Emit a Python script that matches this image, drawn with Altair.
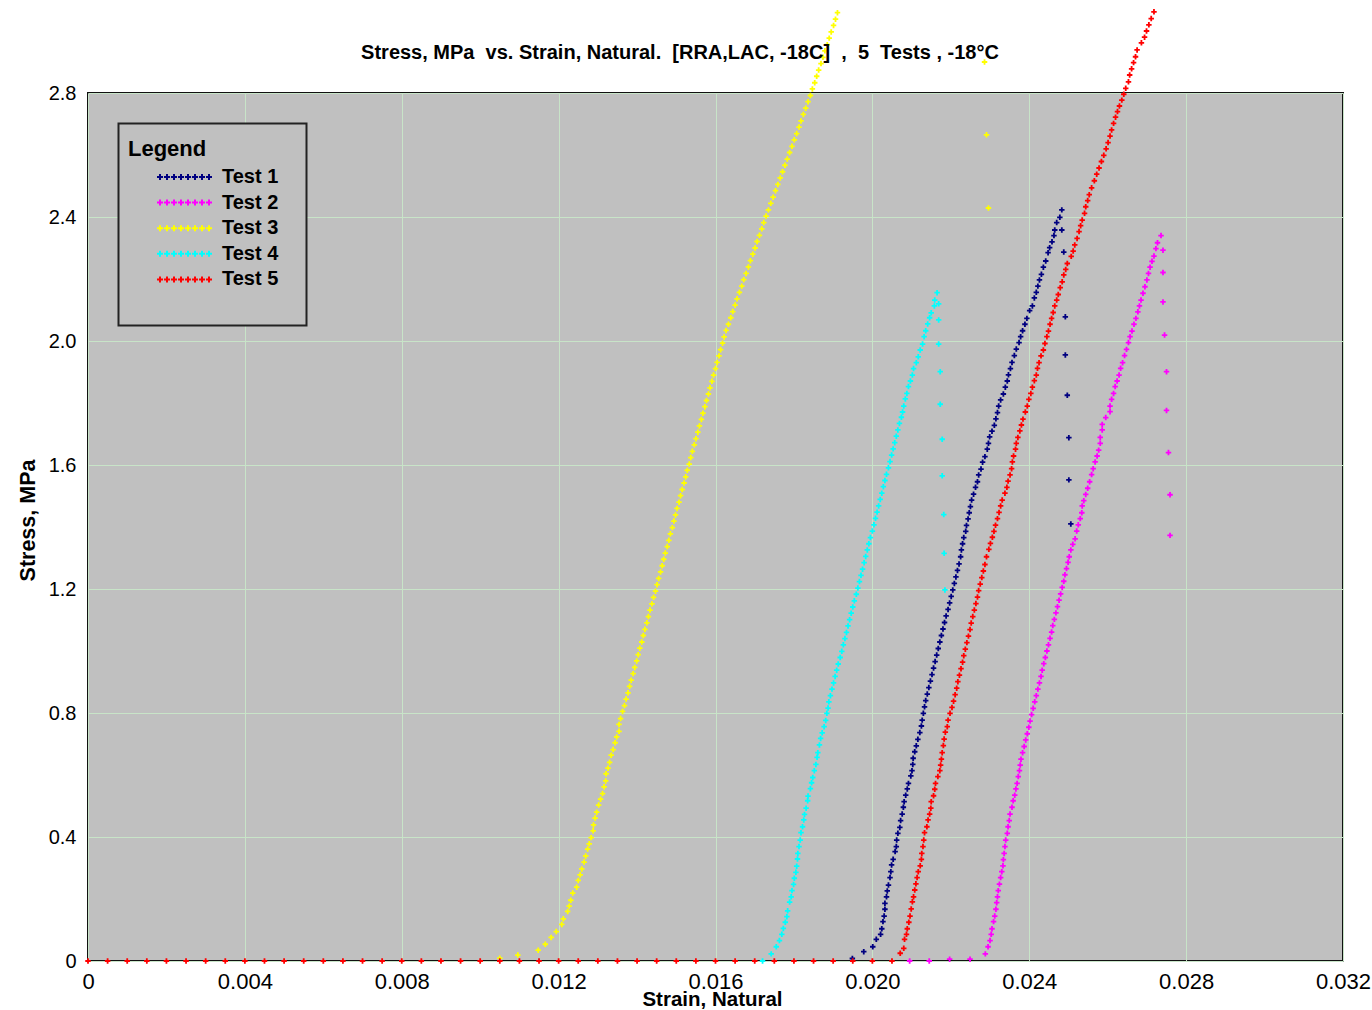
import altair as alt
import pandas as pd

# (strain, stress MPa) readings for each specimen
TEST_1 = [
    (0.01949, 0.008),
    (0.01978, 0.030), (0.02001, 0.046), (0.02010, 0.070), (0.02021, 0.086), (0.02024, 0.104),
    (0.02027, 0.127), (0.02030, 0.145), (0.02032, 0.167), (0.02032, 0.186), (0.02036, 0.207),
    (0.02038, 0.226), (0.02041, 0.245), (0.02045, 0.269), (0.02047, 0.288), (0.02049, 0.310),
    (0.02053, 0.328), (0.02058, 0.353), (0.02061, 0.369), (0.02062, 0.390), (0.02065, 0.412),
    (0.02070, 0.431), (0.02072, 0.453), (0.02076, 0.474), (0.02079, 0.496), (0.02081, 0.514),
    (0.02085, 0.535), (0.02089, 0.555), (0.02092, 0.573), (0.02098, 0.597), (0.02101, 0.614),
    (0.02103, 0.634), (0.02104, 0.654), (0.02108, 0.675), (0.02112, 0.694), (0.02116, 0.715),
    (0.02121, 0.737), (0.02125, 0.758), (0.02127, 0.777), (0.02130, 0.799), (0.02133, 0.820),
    (0.02136, 0.840), (0.02140, 0.861), (0.02144, 0.882), (0.02148, 0.903), (0.02152, 0.924),
    (0.02156, 0.945), (0.02160, 0.966), (0.02164, 0.987), (0.02168, 1.008), (0.02172, 1.029),
    (0.02176, 1.050), (0.02180, 1.071), (0.02184, 1.092), (0.02188, 1.113), (0.02193, 1.134),
    (0.02197, 1.155), (0.02201, 1.176), (0.02205, 1.197), (0.02209, 1.218), (0.02213, 1.239),
    (0.02217, 1.260), (0.02221, 1.281), (0.02225, 1.304), (0.02227, 1.326), (0.02230, 1.346),
    (0.02233, 1.366), (0.02238, 1.386), (0.02240, 1.405), (0.02244, 1.426), (0.02247, 1.446),
    (0.02250, 1.466), (0.02253, 1.487), (0.02258, 1.506), (0.02263, 1.528), (0.02268, 1.546),
    (0.02271, 1.568), (0.02277, 1.587), (0.02281, 1.609), (0.02287, 1.627), (0.02293, 1.651),
    (0.02296, 1.670), (0.02299, 1.691), (0.02305, 1.709), (0.02311, 1.728), (0.02315, 1.749),
    (0.02319, 1.769), (0.02322, 1.790), (0.02327, 1.810), (0.02334, 1.829), (0.02339, 1.851),
    (0.02344, 1.871), (0.02347, 1.891), (0.02352, 1.911), (0.02356, 1.931), (0.02362, 1.953),
    (0.02367, 1.974), (0.02374, 1.995), (0.02378, 2.014), (0.02383, 2.033), (0.02389, 2.054),
    (0.02394, 2.073), (0.02401, 2.098), (0.02408, 2.113), (0.02413, 2.139), (0.02418, 2.157),
    (0.02422, 2.177), (0.02426, 2.197), (0.02431, 2.215), (0.02436, 2.238), (0.02442, 2.258),
    (0.02448, 2.285), (0.02452, 2.301), (0.02458, 2.320), (0.02463, 2.340), (0.02465, 2.358),
    (0.02470, 2.382), (0.02478, 2.399), (0.02483, 2.423),
    (0.02483, 2.358), (0.02488, 2.287), (0.02492, 2.078), (0.02492, 1.955), (0.02497, 1.825),
    (0.02501, 1.688), (0.02501, 1.552), (0.02506, 1.410),
]

TEST_2 = [
    (0.02095, 0.0), (0.02145, 0.0), (0.02197, 0.006), (0.02249, 0.006),
    (0.02288, 0.023), (0.02295, 0.046), (0.02300, 0.066), (0.02303, 0.086), (0.02305, 0.104),
    (0.02309, 0.127), (0.02312, 0.145), (0.02315, 0.167), (0.02317, 0.188), (0.02319, 0.207),
    (0.02321, 0.227), (0.02324, 0.248), (0.02327, 0.269), (0.02330, 0.288), (0.02333, 0.307),
    (0.02334, 0.327), (0.02336, 0.347), (0.02338, 0.369), (0.02340, 0.390), (0.02344, 0.412),
    (0.02346, 0.433), (0.02349, 0.453), (0.02351, 0.474), (0.02356, 0.496), (0.02359, 0.517),
    (0.02363, 0.535), (0.02366, 0.555), (0.02369, 0.573), (0.02372, 0.595), (0.02375, 0.614),
    (0.02377, 0.632), (0.02379, 0.651), (0.02383, 0.672), (0.02387, 0.692), (0.02391, 0.713),
    (0.02395, 0.733), (0.02399, 0.754), (0.02402, 0.774), (0.02406, 0.795), (0.02410, 0.815),
    (0.02414, 0.836), (0.02418, 0.856), (0.02422, 0.877), (0.02426, 0.897), (0.02430, 0.918),
    (0.02433, 0.938), (0.02437, 0.959), (0.02441, 0.979), (0.02445, 1.000), (0.02449, 1.020),
    (0.02453, 1.041), (0.02457, 1.061), (0.02460, 1.082), (0.02464, 1.102), (0.02468, 1.123),
    (0.02472, 1.143), (0.02476, 1.164), (0.02480, 1.184), (0.02484, 1.205), (0.02488, 1.225),
    (0.02491, 1.246), (0.02495, 1.266), (0.02499, 1.286), (0.02502, 1.304), (0.02506, 1.326),
    (0.02511, 1.344), (0.02517, 1.362), (0.02521, 1.387), (0.02525, 1.407), (0.02530, 1.427),
    (0.02534, 1.446), (0.02535, 1.468), (0.02539, 1.485), (0.02544, 1.505), (0.02549, 1.525),
    (0.02554, 1.546), (0.02559, 1.569), (0.02563, 1.588), (0.02568, 1.610), (0.02573, 1.629),
    (0.02577, 1.648), (0.02581, 1.670), (0.02581, 1.689), (0.02586, 1.713), (0.02586, 1.731),
    (0.02595, 1.753), (0.02606, 1.772), (0.02606, 1.790), (0.02610, 1.812), (0.02615, 1.831),
    (0.02619, 1.853), (0.02624, 1.871), (0.02629, 1.890), (0.02633, 1.912), (0.02638, 1.930),
    (0.02643, 1.953), (0.02648, 1.973), (0.02653, 1.995), (0.02657, 2.014), (0.02662, 2.032),
    (0.02667, 2.054), (0.02672, 2.073), (0.02677, 2.094), (0.02681, 2.113), (0.02685, 2.132),
    (0.02690, 2.154), (0.02695, 2.175), (0.02700, 2.197), (0.02704, 2.218), (0.02708, 2.238),
    (0.02713, 2.257), (0.02718, 2.274), (0.02723, 2.298), (0.02727, 2.317), (0.02736, 2.340),
    (0.02741, 2.293), (0.02741, 2.221), (0.02741, 2.126), (0.02745, 2.019), (0.02750, 1.901),
    (0.02750, 1.776), (0.02755, 1.640), (0.02759, 1.504), (0.02759, 1.373),
]

TEST_3 = [
    (0.01050, 0.009),
    (0.01096, 0.019), (0.01148, 0.035), (0.01166, 0.054), (0.01181, 0.076), (0.01194, 0.095),
    (0.01208, 0.118), (0.01212, 0.136), (0.01223, 0.160), (0.01227, 0.177), (0.01231, 0.196),
    (0.01236, 0.219), (0.01246, 0.238), (0.01250, 0.260), (0.01255, 0.278), (0.01259, 0.297),
    (0.01265, 0.319), (0.01269, 0.339), (0.01274, 0.361), (0.01278, 0.378), (0.01283, 0.398),
    (0.01288, 0.420), (0.01289, 0.439), (0.01293, 0.461), (0.01297, 0.480), (0.01302, 0.503),
    (0.01307, 0.522), (0.01312, 0.540), (0.01316, 0.562), (0.01320, 0.581), (0.01321, 0.604),
    (0.01326, 0.622), (0.01330, 0.641), (0.01334, 0.664), (0.01339, 0.682), (0.01344, 0.704),
    (0.01348, 0.723), (0.01354, 0.741), (0.01354, 0.763), (0.01358, 0.782), (0.01363, 0.805),
    (0.01368, 0.824), (0.01372, 0.845), (0.01377, 0.865), (0.01381, 0.886), (0.01385, 0.906),
    (0.01390, 0.927), (0.01394, 0.947), (0.01399, 0.968), (0.01403, 0.988), (0.01407, 1.009),
    (0.01412, 1.029), (0.01416, 1.050), (0.01420, 1.070), (0.01425, 1.091), (0.01429, 1.111),
    (0.01433, 1.132), (0.01438, 1.152), (0.01442, 1.173), (0.01447, 1.193), (0.01451, 1.214),
    (0.01455, 1.234), (0.01460, 1.255), (0.01464, 1.275), (0.01468, 1.296), (0.01472, 1.316),
    (0.01477, 1.337), (0.01481, 1.357), (0.01485, 1.378), (0.01490, 1.398), (0.01494, 1.419),
    (0.01498, 1.439), (0.01502, 1.460), (0.01507, 1.480), (0.01511, 1.501), (0.01515, 1.521),
    (0.01520, 1.542), (0.01524, 1.562), (0.01528, 1.583), (0.01533, 1.603), (0.01537, 1.624),
    (0.01541, 1.644), (0.01546, 1.665), (0.01550, 1.685), (0.01555, 1.706), (0.01559, 1.726),
    (0.01564, 1.747), (0.01568, 1.767), (0.01573, 1.788), (0.01577, 1.808), (0.01582, 1.829),
    (0.01586, 1.849), (0.01591, 1.870), (0.01595, 1.890), (0.01600, 1.911), (0.01604, 1.931),
    (0.01609, 1.952), (0.01613, 1.972), (0.01618, 1.993), (0.01622, 2.013), (0.01627, 2.034),
    (0.01633, 2.054), (0.01639, 2.075), (0.01644, 2.095), (0.01650, 2.116), (0.01655, 2.136),
    (0.01661, 2.157), (0.01667, 2.177), (0.01672, 2.198), (0.01678, 2.218), (0.01684, 2.239),
    (0.01689, 2.259), (0.01695, 2.280), (0.01701, 2.300), (0.01706, 2.321), (0.01712, 2.341),
    (0.01718, 2.362), (0.01723, 2.382), (0.01729, 2.403), (0.01735, 2.423), (0.01741, 2.444),
    (0.01747, 2.464), (0.01753, 2.485), (0.01759, 2.505), (0.01765, 2.526), (0.01771, 2.546),
    (0.01777, 2.567), (0.01783, 2.587), (0.01789, 2.608), (0.01795, 2.628), (0.01801, 2.649),
    (0.01807, 2.669), (0.01813, 2.690), (0.01818, 2.710), (0.01824, 2.731), (0.01830, 2.751),
    (0.01836, 2.772), (0.01842, 2.792), (0.01847, 2.813), (0.01853, 2.833), (0.01858, 2.854),
    (0.01863, 2.874), (0.01869, 2.895), (0.01874, 2.915), (0.01879, 2.936), (0.01885, 2.956),
    (0.01890, 2.977), (0.01895, 2.997), (0.01901, 3.018), (0.01906, 3.038), (0.01911, 3.059),
    (0.02286, 2.900), (0.02291, 2.665), (0.02296, 2.429),
]

TEST_4 = [
    (0.01720, 0.0),
    (0.01742, 0.023), (0.01755, 0.046), (0.01763, 0.066), (0.01769, 0.086), (0.01773, 0.105),
    (0.01778, 0.125), (0.01782, 0.143), (0.01784, 0.162), (0.01789, 0.190), (0.01793, 0.207),
    (0.01795, 0.227), (0.01799, 0.247), (0.01801, 0.267), (0.01805, 0.286), (0.01807, 0.306),
    (0.01809, 0.329), (0.01810, 0.347), (0.01813, 0.369), (0.01816, 0.390), (0.01818, 0.414),
    (0.01822, 0.433), (0.01825, 0.455), (0.01827, 0.473), (0.01831, 0.493), (0.01835, 0.517),
    (0.01836, 0.532), (0.01842, 0.556), (0.01845, 0.575), (0.01848, 0.592), (0.01852, 0.614),
    (0.01856, 0.634), (0.01859, 0.657), (0.01861, 0.672), (0.01865, 0.697), (0.01868, 0.718),
    (0.01872, 0.736), (0.01877, 0.756), (0.01881, 0.776), (0.01884, 0.799), (0.01887, 0.816),
    (0.01889, 0.836), (0.01893, 0.856), (0.01897, 0.877), (0.01901, 0.897), (0.01905, 0.918),
    (0.01909, 0.938), (0.01913, 0.958), (0.01918, 0.979), (0.01922, 0.999), (0.01926, 1.020),
    (0.01930, 1.040), (0.01934, 1.060), (0.01938, 1.081), (0.01942, 1.101), (0.01946, 1.122),
    (0.01950, 1.142), (0.01954, 1.162), (0.01959, 1.183), (0.01963, 1.203), (0.01967, 1.224),
    (0.01971, 1.244), (0.01975, 1.264), (0.01979, 1.285), (0.01983, 1.305), (0.01987, 1.326),
    (0.01991, 1.346), (0.01995, 1.366), (0.02000, 1.387), (0.02004, 1.407), (0.02008, 1.428),
    (0.02012, 1.448), (0.02016, 1.468), (0.02020, 1.489), (0.02024, 1.509), (0.02028, 1.530),
    (0.02032, 1.550), (0.02036, 1.570), (0.02041, 1.591), (0.02045, 1.611), (0.02049, 1.632),
    (0.02053, 1.652), (0.02057, 1.672), (0.02061, 1.693), (0.02065, 1.713), (0.02069, 1.734),
    (0.02074, 1.754), (0.02077, 1.771), (0.02080, 1.790), (0.02084, 1.813), (0.02088, 1.831),
    (0.02092, 1.853), (0.02097, 1.871), (0.02102, 1.890), (0.02105, 1.911), (0.02112, 1.930),
    (0.02117, 1.949), (0.02122, 1.971), (0.02128, 1.990), (0.02132, 2.014), (0.02136, 2.033),
    (0.02141, 2.055), (0.02146, 2.075), (0.02150, 2.091), (0.02158, 2.113), (0.02159, 2.132),
    (0.02165, 2.156),
    (0.02169, 2.120), (0.02169, 2.068), (0.02169, 1.990), (0.02173, 1.901), (0.02173, 1.796),
    (0.02178, 1.683), (0.02178, 1.565), (0.02182, 1.440), (0.02183, 1.315), (0.02185, 1.197),
]

TEST_5 = [
    (0.0000, 0.0), (0.0005, 0.0), (0.0010, 0.0), (0.0015, 0.0), (0.0020, 0.0), (0.0025, 0.0),
    (0.0030, 0.0), (0.0035, 0.0), (0.0040, 0.0), (0.0045, 0.0), (0.0050, 0.0), (0.0055, 0.0),
    (0.0060, 0.0), (0.0065, 0.0), (0.0070, 0.0), (0.0075, 0.0), (0.0080, 0.0), (0.0085, 0.0),
    (0.0090, 0.0), (0.0095, 0.0), (0.0100, 0.0), (0.0105, 0.0), (0.0110, 0.0), (0.0115, 0.0),
    (0.0120, 0.0), (0.0125, 0.0), (0.0130, 0.0), (0.0135, 0.0), (0.0140, 0.0), (0.0145, 0.0),
    (0.0150, 0.0), (0.0155, 0.0), (0.0160, 0.0), (0.0165, 0.0), (0.0170, 0.0), (0.0175, 0.0),
    (0.0180, 0.0), (0.0185, 0.0), (0.0190, 0.0), (0.0195, 0.0), (0.0200, 0.0), (0.0205, 0.0),
    (0.02071, 0.025), (0.02080, 0.041), (0.02082, 0.070), (0.02087, 0.086), (0.02089, 0.104),
    (0.02093, 0.125), (0.02096, 0.145), (0.02099, 0.168), (0.02102, 0.191), (0.02105, 0.207),
    (0.02108, 0.229), (0.02111, 0.249), (0.02114, 0.269), (0.02117, 0.288), (0.02122, 0.307),
    (0.02125, 0.328), (0.02126, 0.347), (0.02129, 0.369), (0.02131, 0.390), (0.02133, 0.414),
    (0.02139, 0.433), (0.02142, 0.455), (0.02146, 0.474), (0.02149, 0.493), (0.02150, 0.514),
    (0.02156, 0.533), (0.02159, 0.554), (0.02161, 0.573), (0.02167, 0.595), (0.02172, 0.614),
    (0.02174, 0.632), (0.02176, 0.651), (0.02178, 0.672), (0.02181, 0.695), (0.02183, 0.716),
    (0.02186, 0.738), (0.02191, 0.756), (0.02193, 0.777), (0.02198, 0.799), (0.02203, 0.818),
    (0.02207, 0.838), (0.02211, 0.859), (0.02215, 0.880), (0.02218, 0.901), (0.02222, 0.922),
    (0.02226, 0.943), (0.02230, 0.964), (0.02233, 0.985), (0.02237, 1.006), (0.02241, 1.027),
    (0.02245, 1.048), (0.02249, 1.069), (0.02252, 1.090), (0.02256, 1.111), (0.02260, 1.132),
    (0.02264, 1.153), (0.02268, 1.174), (0.02271, 1.195), (0.02275, 1.216), (0.02279, 1.237),
    (0.02283, 1.258), (0.02287, 1.279), (0.02291, 1.304), (0.02297, 1.328), (0.02301, 1.347),
    (0.02306, 1.367), (0.02310, 1.386), (0.02314, 1.406), (0.02319, 1.427), (0.02323, 1.447),
    (0.02327, 1.468), (0.02331, 1.487), (0.02338, 1.509), (0.02343, 1.528), (0.02346, 1.548),
    (0.02351, 1.568), (0.02355, 1.588), (0.02357, 1.610), (0.02360, 1.629), (0.02365, 1.651),
    (0.02367, 1.670), (0.02371, 1.689), (0.02376, 1.710), (0.02380, 1.729), (0.02384, 1.748),
    (0.02390, 1.771), (0.02395, 1.790), (0.02399, 1.812), (0.02404, 1.831), (0.02408, 1.851),
    (0.02413, 1.872), (0.02418, 1.890), (0.02421, 1.912), (0.02425, 1.930), (0.02430, 1.952),
    (0.02436, 1.971), (0.02440, 1.992), (0.02445, 2.014), (0.02449, 2.032), (0.02453, 2.054),
    (0.02457, 2.073), (0.02461, 2.092), (0.02465, 2.113), (0.02470, 2.132), (0.02474, 2.150),
    (0.02479, 2.172), (0.02484, 2.191), (0.02488, 2.213), (0.02493, 2.231), (0.02497, 2.250),
    (0.02507, 2.273), (0.02512, 2.290), (0.02516, 2.310), (0.02522, 2.331), (0.02527, 2.353),
    (0.02531, 2.372), (0.02535, 2.390), (0.02541, 2.412), (0.02544, 2.433), (0.02549, 2.453),
    (0.02553, 2.472), (0.02559, 2.494), (0.02566, 2.517), (0.02572, 2.538), (0.02578, 2.558),
    (0.02584, 2.579), (0.02590, 2.599), (0.02596, 2.620), (0.02601, 2.640), (0.02606, 2.661),
    (0.02610, 2.681), (0.02615, 2.702), (0.02620, 2.722), (0.02625, 2.740), (0.02630, 2.758),
    (0.02636, 2.777), (0.02641, 2.796), (0.02646, 2.815), (0.02653, 2.836), (0.02656, 2.858),
    (0.02661, 2.878), (0.02666, 2.898), (0.02671, 2.917), (0.02675, 2.939), (0.02686, 2.962),
    (0.02694, 2.980), (0.02699, 3.000), (0.02705, 3.020), (0.02711, 3.040), (0.02718, 3.062),
]

SERIES = ["Test 1", "Test 2", "Test 3", "Test 4", "Test 5"]
COLORS = ["#000080", "#FF00FF", "#FFFF00", "#00FFFF", "#FF0000"]
X_TICKS = [0, 0.004, 0.008, 0.012, 0.016, 0.020, 0.024, 0.028, 0.032]
Y_TICKS = [0, 0.4, 0.8, 1.2, 1.6, 2.0, 2.4, 2.8]

NB = "\u00a0"
TITLE = (f"Stress, MPa{NB}{NB}vs. Strain, Natural.{NB}{NB}[RRA,LAC, -18C]{NB}{NB},"
         f"{NB}{NB}5{NB}{NB}Tests , -18°C")

rows = []
for name, pts in zip(SERIES, [TEST_1, TEST_2, TEST_3, TEST_4, TEST_5]):
    for strain, stress in pts:
        rows.append({"test": name, "strain": strain, "stress": stress})
df = pd.DataFrame(rows)

# small "+" marker used for the data points
CROSS = "M-1,-0.33H-0.33V-1H0.33V-0.33H1V0.33H0.33V1H-0.33V0.33H-1Z"


# legend swatch: a short row of "+" markers to the right of the symbol origin
def swatch(centers, arm=0.3, half=0.1):
    parts = []
    for c in centers:
        parts.append(
            f"M{c-arm:.2f},{-half}H{c-half:.2f}V{-arm}H{c+half:.2f}V{-half}"
            f"H{c+arm:.2f}V{half}H{c+half:.2f}V{arm}H{c-half:.2f}V{half}H{c-arm:.2f}Z"
        )
    return "".join(parts)


SWATCH = swatch([2.2, 2.9, 3.6, 4.3, 5.0, 5.7, 6.4, 7.1])

FONT = "Liberation Sans"

points = alt.Chart(df).mark_point(
    shape=CROSS, filled=True, size=30, opacity=1, strokeWidth=0
).encode(
    x=alt.X(
        "strain:Q",
        scale=alt.Scale(domain=[0, 0.032], nice=False, zero=False),
        axis=alt.Axis(
            values=X_TICKS,
            labelExpr="datum.value == 0 ? '0' : format(datum.value, '.3f')",
            labelFontSize=22,
            labelFlush=False,
            labelPadding=10,
            title="Strain, Natural",
            titleFontSize=20.5,
            titleY=44,
            titleX=624,
            titleBaseline="alphabetic",
        ),
    ),
    y=alt.Y(
        "stress:Q",
        scale=alt.Scale(domain=[0, 2.8], nice=False, zero=False),
        axis=alt.Axis(
            values=Y_TICKS,
            labelExpr="datum.value == 0 ? '0' : format(datum.value, '.1f')",
            labelFontSize=20,
            labelPadding=12,
            title="Stress, MPa",
            titleFontSize=21.5,
            titleX=-54,
            titleY=427,
            titleBaseline="alphabetic",
        ),
    ),
    color=alt.Color(
        "test:N",
        scale=alt.Scale(domain=SERIES, range=COLORS),
        legend=alt.Legend(
            title="Legend",
            orient="none",
            legendX=40,
            legendY=46,
            padding=0,
            symbolType=SWATCH,
            symbolSize=400,
            symbolStrokeWidth=0,
            labelOffset=74,
            labelFont=FONT,
            labelFontSize=20,
            labelFontWeight="bold",
            labelColor="#000",
            titleFont=FONT,
            titleFontSize=22,
            titleFontWeight="bold",
            titleColor="#000",
            titlePadding=6,
            rowPadding=5.6,
        ),
    ),
    order=alt.Order("test:N"),
)

# frame behind the legend entries
frame = alt.Chart(pd.DataFrame({"k": [0]})).mark_rect(
    fill="#C0C0C0", stroke="#222222", strokeWidth=2
).encode(
    x=alt.value(30.5), x2=alt.value(218.5), y=alt.value(30.5), y2=alt.value(232.5)
)

# chart heading, set above the plot frame
heading = alt.Chart(pd.DataFrame({"k": [0]})).mark_text(
    font=FONT, fontSize=20, fontWeight="bold", color="#000",
    align="center", baseline="alphabetic",
).encode(
    x=alt.value(592), y=alt.value(-34), text=alt.value(TITLE)
)

chart = alt.layer(frame, points, heading).properties(
    width=1255,
    height=868,
    padding={"left": 88, "top": 93, "right": 29, "bottom": 49},
    autosize=alt.AutoSizeParams(type="none"),
    background="white",
).configure_view(
    fill="#C0C0C0", stroke="#111111", strokeWidth=2
).configure_axis(
    labelFont=FONT,
    labelColor="#000",
    titleFont=FONT,
    titleFontWeight="bold",
    titleColor="#000",
    ticks=False,
    tickSize=0,
    domain=False,
    grid=True,
    gridColor="#C8E4C8",
    gridWidth=1,
    gridOpacity=1,
)

chart.save("out.html", embed_options={"renderer": "svg", "actions": False})
